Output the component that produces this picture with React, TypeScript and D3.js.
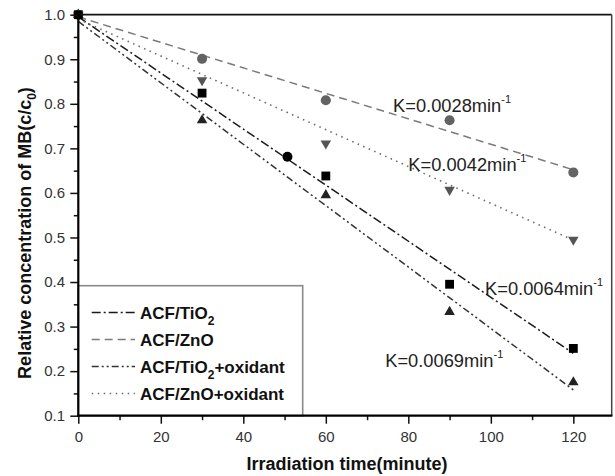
import React, { useEffect, useRef } from "react";
import * as d3 from "d3";

// measured points (c/c0) at each irradiation time
const times = [0, 30, 60, 90, 120];
const tio2 = [1.0, 0.824, 0.638, 0.395, 0.251];
const zno = [1.0, 0.901, 0.808, 0.763, 0.646];
const tio2Ox = [1.0, 0.763, 0.595, 0.333, 0.175];
const znoOx = [1.0, 0.853, 0.711, 0.607, 0.495];
// stray black point on the TiO2 fit line
const tio2Extra: [number, number][] = [[50.7, 0.681]];

// linear fits: value at start and end time
const fitTimes = [0, 120];
const tio2Fit = [0.995, 0.24];
const znoFit = [0.995, 0.652];
const tio2OxFit = [0.985, 0.158];
const znoOxFit = [0.99, 0.494];

const seriesNames = ["ACF/TiO2", "ACF/ZnO", "ACF/TiO2+oxidant", "ACF/ZnO+oxidant"];

const kLabels = ["K=0.0028min", "K=0.0042min", "K=0.0064min", "K=0.0069min"];
const kTimes = [76.3, 80.0, 98.6, 74.4];
const kValues = [0.781, 0.649, 0.371, 0.21];

const xTicks = [0, 20, 40, 60, 80, 100, 120];
const xMinor = [10, 30, 50, 70, 90, 110];
const yTicks = [0.1, 0.2, 0.3, 0.4, 0.5, 0.6, 0.7, 0.8, 0.9, 1.0];
const yMinor = [0.15, 0.25, 0.35, 0.45, 0.55, 0.65, 0.75, 0.85, 0.95];

const FONT = "'Liberation Sans', Arial, Helvetica, sans-serif";

const styles = [
  { stroke: "#1a1a1a", dash: "9,3,2,3", width: 1.5, symbol: d3.symbolSquare, size: 78, rotate: 0, fill: "#000" },
  { stroke: "#7a7a7a", dash: "8,5", width: 1.5, symbol: d3.symbolCircle, size: 80, rotate: 0, fill: "#636363" },
  { stroke: "#333", dash: "7,3,2,3,2,3", width: 1.5, symbol: d3.symbolTriangle, size: 48, rotate: 0, fill: "#222" },
  { stroke: "#6a6a6a", dash: "1.5,4.5", width: 1.6, symbol: d3.symbolTriangle, size: 48, rotate: 180, fill: "#555" },
];

function addName(sel: any, name: string) {
  const parts = name.split("TiO2");
  if (parts.length === 1) {
    sel.text(name);
    return;
  }
  sel.append("tspan").text(parts[0] + "TiO");
  sel.append("tspan").attr("font-size", 12).attr("dy", 6).text("2");
  if (parts[1]) sel.append("tspan").attr("dy", -6).text(parts[1]);
}

export default function App() {
  const ref = useRef<SVGSVGElement>(null);

  useEffect(() => {
    const w = 615;
    const h = 476;
    const svg = d3.select(ref.current);
    svg.selectAll("*").remove();

    const x = d3.scaleLinear().domain([0, 129.3]).range([78.3, 611.7]);
    const y = d3.scaleLinear().domain([0.1, 1.0]).range([415.7, 14.7]);

    svg.append("rect").attr("width", w).attr("height", h).attr("fill", "#fff");

    const data = [tio2, zno, tio2Ox, znoOx];
    const fits = [tio2Fit, znoFit, tio2OxFit, znoOxFit];

    // legend box (behind the lines)
    const legend = svg.append("g");
    legend
      .append("rect")
      .attr("x", x(0))
      .attr("y", 285.7)
      .attr("width", 302.7 - x(0))
      .attr("height", y(0.1) - 285.7)
      .attr("fill", "#fff")
      .attr("stroke", "#8a8a8a")
      .attr("stroke-width", 1.6);

    // fit lines
    const line = d3
      .line<number>()
      .x((d, i) => x(fitTimes[i]))
      .y((d) => y(d));

    fits.forEach((f, i) => {
      svg
        .append("path")
        .attr("d", line(f))
        .attr("fill", "none")
        .attr("stroke", styles[i].stroke)
        .attr("stroke-width", styles[i].width)
        .attr("stroke-dasharray", styles[i].dash);
    });

    // markers, drawn last-to-first so the black squares sit on top
    for (let i = data.length - 1; i >= 0; i--) {
      const st = styles[i];
      const sym = d3.symbol().type(st.symbol).size(st.size);
      svg
        .append("g")
        .selectAll("path")
        .data(data[i])
        .join("path")
        .attr("d", sym() as string)
        .attr("fill", st.fill)
        .attr("transform", (d, j) => "translate(" + x(times[j]) + "," + y(d) + ") rotate(" + st.rotate + ")");
    }

    svg
      .append("g")
      .selectAll("circle")
      .data(tio2Extra)
      .join("circle")
      .attr("cx", (d) => x(d[0]))
      .attr("cy", (d) => y(d[1]))
      .attr("r", 5)
      .attr("fill", "#000");

    // legend entries
    seriesNames.forEach((name, i) => {
      const base = 318.5 + i * 27;
      legend
        .append("line")
        .attr("x1", 91.7)
        .attr("x2", 135)
        .attr("y1", base - 6)
        .attr("y2", base - 6)
        .attr("stroke", styles[i].stroke)
        .attr("stroke-width", styles[i].width)
        .attr("stroke-dasharray", styles[i].dash);
      const t = legend
        .append("text")
        .attr("x", 140)
        .attr("y", base)
        .attr("font-family", FONT)
        .attr("font-weight", "bold")
        .attr("font-size", 17)
        .attr("fill", "#111");
      addName(t, name);
    });

    // rate constant labels
    kLabels.forEach((k, i) => {
      const t = svg
        .append("text")
        .attr("x", x(kTimes[i]))
        .attr("y", y(kValues[i]))
        .attr("font-family", FONT)
        .attr("font-size", 18.3)
        .attr("fill", "#222");
      t.append("tspan").text(k);
      t.append("tspan").attr("font-size", 11).attr("dy", -9).text("-1");
    });

    // axes
    const xAxis = d3.axisBottom(x).tickValues(xTicks).tickSize(8).tickPadding(7.3);
    const gx = svg
      .append("g")
      .attr("transform", "translate(0," + y(0.1) + ")")
      .call(xAxis);
    svg
      .append("g")
      .attr("transform", "translate(0," + y(0.1) + ")")
      .call(d3.axisBottom(x).tickValues(xMinor).tickSize(4.5).tickFormat(() => ""));

    const yAxis = d3.axisLeft(y).tickValues(yTicks).tickSize(8).tickPadding(5.3).tickFormat(d3.format(".1f"));
    const gy = svg
      .append("g")
      .attr("transform", "translate(" + x(0) + ",0)")
      .call(yAxis);
    svg
      .append("g")
      .attr("transform", "translate(" + x(0) + ",0)")
      .call(d3.axisLeft(y).tickValues(yMinor).tickSize(4.5).tickFormat(() => ""));

    svg.selectAll(".domain").remove();
    svg.selectAll(".tick line").attr("stroke", "#111").attr("stroke-width", 1.5);
    [gx, gy].forEach((g) =>
      g.selectAll("text").attr("font-family", FONT).attr("font-size", 15).attr("fill", "#333")
    );

    // frame
    svg
      .append("line")
      .attr("x1", x(0))
      .attr("x2", x(129.3))
      .attr("y1", y(1.0))
      .attr("y2", y(1.0))
      .attr("stroke", "#111")
      .attr("stroke-width", 1.8);
    svg
      .append("line")
      .attr("x1", x(129.3))
      .attr("x2", x(129.3))
      .attr("y1", y(1.0))
      .attr("y2", y(0.1))
      .attr("stroke", "#444")
      .attr("stroke-width", 1.5);
    svg
      .append("line")
      .attr("x1", x(0))
      .attr("x2", x(0))
      .attr("y1", y(1.0) - 1)
      .attr("y2", y(0.1) + 1)
      .attr("stroke", "#000")
      .attr("stroke-width", 2.2);
    svg
      .append("line")
      .attr("x1", x(0) - 1)
      .attr("x2", x(129.3) + 0.7)
      .attr("y1", y(0.1))
      .attr("y2", y(0.1))
      .attr("stroke", "#000")
      .attr("stroke-width", 2.2);

    // axis titles
    svg
      .append("text")
      .attr("x", (x(0) + x(129.3)) / 2 + 2)
      .attr("y", 470)
      .attr("text-anchor", "middle")
      .attr("font-family", FONT)
      .attr("font-weight", "bold")
      .attr("font-size", 18)
      .attr("fill", "#111")
      .text("Irradiation time(minute)");

    const yt = svg
      .append("text")
      .attr("transform", "translate(30.5,233) rotate(-90)")
      .attr("text-anchor", "middle")
      .attr("font-family", FONT)
      .attr("font-weight", "bold")
      .attr("font-size", 18)
      .attr("fill", "#111");
    yt.append("tspan").text("Relative concentration of MB(c/c");
    yt.append("tspan").attr("font-size", 12).attr("dy", 5).text("0");
    yt.append("tspan").attr("dy", -5).text(")");
  }, []);

  return (
    <svg
      ref={ref}
      width={615}
      height={476}
      style={{ position: "absolute", left: 0, top: 0 }}
    />
  );
}
